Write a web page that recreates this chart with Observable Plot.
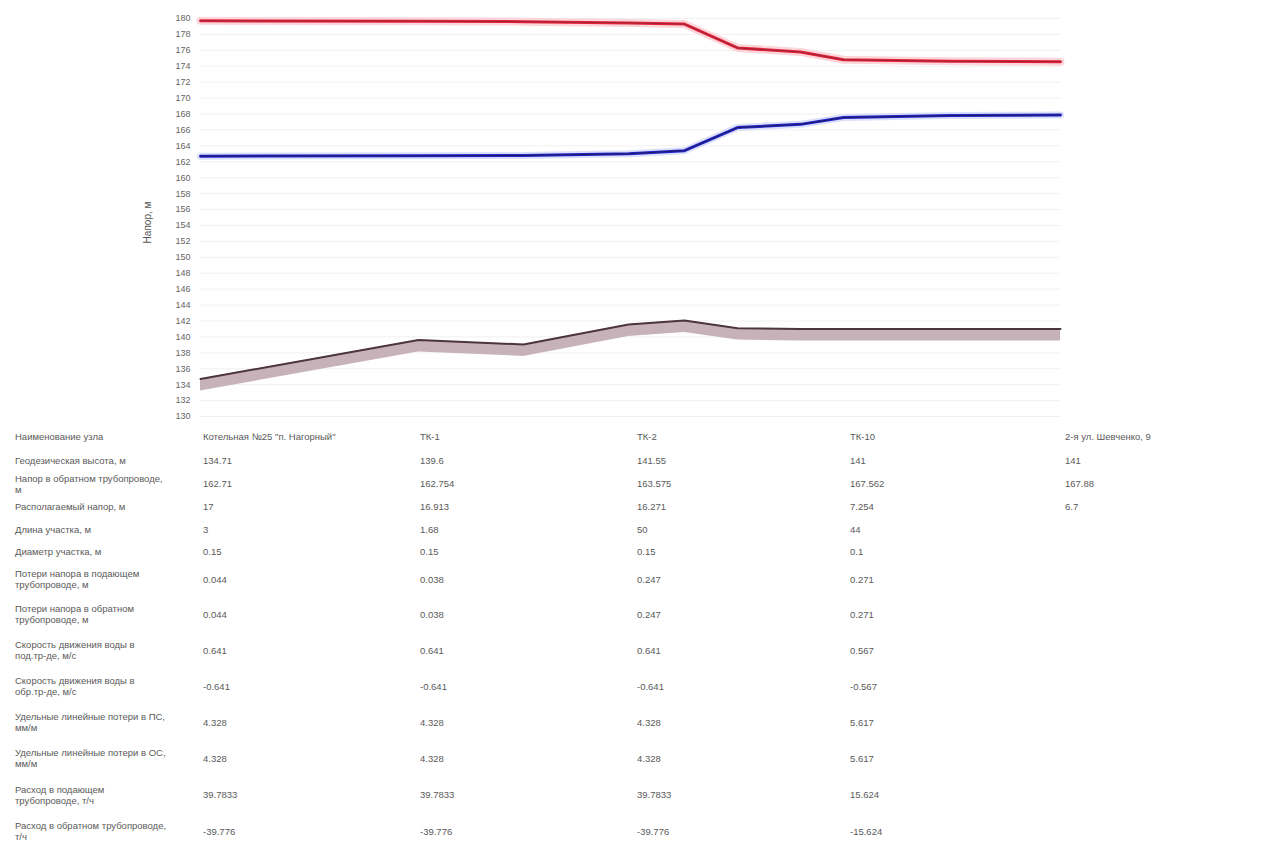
<!DOCTYPE html>
<html>
<head>
<meta charset="utf-8">
<script src="https://cdn.jsdelivr.net/npm/d3@7"></script>
<script src="https://cdn.jsdelivr.net/npm/@observablehq/plot@0.6"></script>
<style>
  html, body { margin: 0; padding: 0; background: #fff; }
  body { width: 1284px; height: 845px; overflow: hidden; font-family: "Liberation Sans", Arial, sans-serif; }
  #chart svg { display: block; }
  table { border-collapse: collapse; position: absolute; left: 15px; top: 425px; font-size: 9.5px; color: #5a5a5a; table-layout: fixed; }
  td { padding: 0; vertical-align: middle; line-height: 11px; white-space: pre; }
  td.lab { width: 188px; }
</style>
</head>
<body>
<div id="chart"></div>
<div id="tbl"></div>
<script>
// ---- Chart data (piezometric graph) ----
const distance   = [0, 21.8, 32.3, 42.8, 48.4, 53.7, 60.0, 64.3, 75.0, 86.0];
const groundLvl  = [134.71, 139.6, 139.05, 141.55, 142.05, 141.1, 141.0, 141.0, 141.0, 141.0];
const supplyHead = [179.71, 179.667, 179.6, 179.45, 179.3, 176.3, 175.8, 174.816, 174.62, 174.58];
const returnHead = [162.71, 162.754, 162.8, 163.0, 163.4, 166.3, 166.7, 167.562, 167.8, 167.88];
const yTicks = d3.range(130, 181, 2);

// ---- Table data ----
const rowLabels = [
  "Наименование узла",
  "Геодезическая высота, м",
  "Напор в обратном трубопроводе,\nм",
  "Располагаемый напор, м",
  "Длина участка, м",
  "Диаметр участка, м",
  "Потери напора в подающем\nтрубопроводе, м",
  "Потери напора в обратном\nтрубопроводе, м",
  "Скорость движения воды в\nпод.тр-де, м/с",
  "Скорость движения воды в\nобр.тр-де, м/с",
  "Удельные линейные потери в ПС,\nмм/м",
  "Удельные линейные потери в ОС,\nмм/м",
  "Расход в подающем\nтрубопроводе, т/ч",
  "Расход в обратном трубопроводе,\nт/ч"
];
const nodeNames   = ["Котельная №25 \"п. Нагорный\"", "ТК-1", "ТК-2", "ТК-10", "2-я ул. Шевченко, 9"];
const geoHeight   = ["134.71", "139.6", "141.55", "141", "141"];
const returnPress = ["162.71", "162.754", "163.575", "167.562", "167.88"];
const availHead   = ["17", "16.913", "16.271", "7.254", "6.7"];
const segLength   = ["3", "1.68", "50", "44", ""];
const segDiam     = ["0.15", "0.15", "0.15", "0.1", ""];
const lossSupply  = ["0.044", "0.038", "0.247", "0.271", ""];
const lossReturn  = ["0.044", "0.038", "0.247", "0.271", ""];
const velSupply   = ["0.641", "0.641", "0.641", "0.567", ""];
const velReturn   = ["-0.641", "-0.641", "-0.641", "-0.567", ""];
const specSupply  = ["4.328", "4.328", "4.328", "5.617", ""];
const specReturn  = ["4.328", "4.328", "4.328", "5.617", ""];
const flowSupply  = ["39.7833", "39.7833", "39.7833", "15.624", ""];
const flowReturn  = ["-39.776", "-39.776", "-39.776", "-15.624", ""];

const data = distance.map((x, i) => ({x, ground: groundLvl[i], supply: supplyHead[i], ret: returnHead[i]}));

const chart = Plot.plot({
  width: 1284,
  height: 425,
  marginLeft: 200,
  marginRight: 224,
  marginTop: 18,
  marginBottom: 9,
  style: {fontFamily: "'Liberation Sans', Arial, sans-serif", fontSize: "9px", color: "#666", background: "#fff"},
  x: {domain: [0, 86], axis: null},
  y: {domain: [130, 180], axis: null},
  marks: [
    Plot.gridY(yTicks, {stroke: "#f1f1f1", strokeOpacity: 1}),
    Plot.axisY(yTicks, {tickSize: 0, tickPadding: 10, tickFormat: d => String(d), label: null}),
    Plot.text(["Напор, м"], {frameAnchor: "left", textAnchor: "middle", dx: -53, dy: 5, rotate: -90, fontSize: 10, fill: "#555"}),
    // ground
    Plot.areaY(data, {x: "x", y1: d => d.ground - 1.5, y2: "ground", fill: "#c7b2ba", curve: "linear"}),
    Plot.lineY(data, {x: "x", y: "ground", stroke: "#4d3441", strokeWidth: 2}),
    // supply
    Plot.lineY(data, {x: "x", y: "supply", stroke: "#fbd6da", strokeWidth: 8}),
    Plot.lineY(data, {x: "x", y: "supply", stroke: "#e6223a", strokeWidth: 3}),
    Plot.lineY(data, {x: "x", y: "supply", stroke: "#9a2536", strokeWidth: 1}),
    // return
    Plot.lineY(data, {x: "x", y: "ret", stroke: "#dcdff8", strokeWidth: 7}),
    Plot.lineY(data, {x: "x", y: "ret", stroke: "#2424cc", strokeWidth: 3}),
    Plot.lineY(data, {x: "x", y: "ret", stroke: "#1c1c5e", strokeWidth: 1})
  ]
});
document.getElementById("chart").appendChild(chart);

// ---- Table ----
const rowsVals = [nodeNames, geoHeight, returnPress, availHead, segLength, segDiam,
  lossSupply, lossReturn, velSupply, velReturn, specSupply, specReturn, flowSupply, flowReturn];
const rowH = [23, 24, 23, 23, 22, 22, 34, 36, 36, 36, 36, 36, 37, 36];
const colW = [217, 217, 213, 215, 200];
const table = d3.select("#tbl").append("table");
rowLabels.forEach((lab, i) => {
  const tr = table.append("tr").style("height", rowH[i] + "px");
  tr.append("td").attr("class", "lab").text(lab);
  rowsVals[i].forEach((v, j) => {
    tr.append("td").style("width", colW[j] + "px").text(v);
  });
});
</script>
</body>
</html>
